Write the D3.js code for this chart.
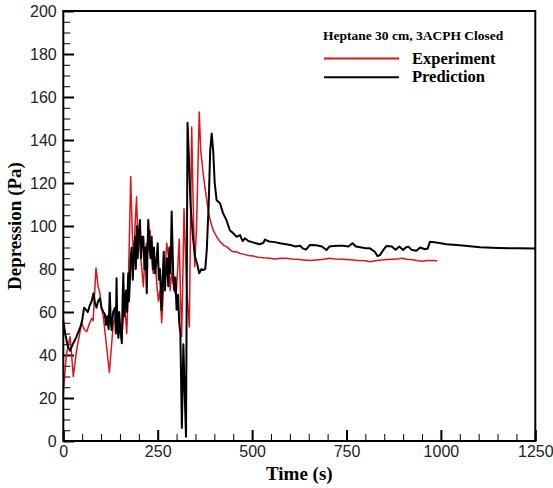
<!DOCTYPE html>
<html>
<head>
<meta charset="utf-8">
<script src="https://cdn.jsdelivr.net/npm/d3@7"></script>
<style>
  body { margin: 0; background: #fff; }
  .tick text { font-family: "Liberation Sans", Arial, sans-serif; font-size: 16px; fill: #222; }
  .ttl { font-family: "Liberation Serif", "Times New Roman", serif; font-weight: bold; fill: #000; }
</style>
</head>
<body>
<div id="chart"></div>
<script>
// Prediction (black) - time (s), depression (Pa)
const predTime = [0, 5, 12, 18, 25, 35, 45, 50, 55, 60, 65, 70, 75, 80, 84, 88, 92, 97, 101, 106, 110, 113, 116, 120, 123, 126, 128, 132, 137, 139, 141, 143, 146, 148, 151, 155, 157, 159, 161, 163, 166, 169, 172, 174, 176, 178, 181, 184, 187, 190, 192, 195, 197, 200, 203, 206, 209, 212, 215, 218, 221, 223, 225, 228, 231, 234, 237, 240, 243, 247, 250, 253, 256, 260, 263, 266, 269, 272, 275, 278, 281, 284, 287, 291, 294, 297, 300, 304, 307, 310, 314, 318, 321, 325, 329, 333, 337, 341, 344, 349, 355, 360, 366, 371, 376, 380, 385, 389, 393, 397, 401, 406, 415, 423, 432, 441, 450, 459, 468, 475, 481, 490, 500, 510, 520, 530, 534, 545, 560, 574, 590, 605, 615, 627, 635, 643, 653, 670, 685, 697, 705, 715, 730, 741, 755, 766, 775, 790, 803, 812, 825, 832, 839, 848, 856, 870, 880, 890, 900, 907, 914, 922, 935, 945, 958, 965, 971, 988, 1015, 1050, 1104, 1150, 1200, 1250];
const predValue = [56, 50, 44, 42, 45, 48.5, 53, 56, 62, 61, 60, 63, 65, 68.7, 64, 62, 65, 66.4, 62, 60, 59, 54, 58, 52, 69, 55, 51.6, 60, 62, 50, 75.7, 55, 48, 60, 52, 45.5, 65, 78, 58, 62, 70, 60, 78, 65, 73, 85, 90, 75, 87, 95, 80, 100, 85, 97, 102.8, 85, 95, 95, 80, 90, 68.7, 88, 102.8, 92, 85, 95, 80, 90, 78, 84, 92, 75, 80, 61, 75, 88, 70, 80, 85, 72, 90, 78, 106.7, 78, 70, 76, 61, 68, 55, 50, 6, 45, 25, 2, 148, 130, 110, 100, 93.5, 85.7, 82, 78, 80, 79.5, 80, 89, 110, 135, 143, 135, 120, 112, 110.6, 106, 102.8, 98, 96.6, 95, 95.8, 93, 94.3, 93, 92.5, 92, 91.5, 92.2, 93.7, 92.8, 92.5, 92, 91.5, 91, 90.5, 90.8, 89.5, 89, 91.2, 91, 90.5, 88.8, 90.5, 90.7, 90.8, 90.8, 90.5, 92, 90.5, 90, 89.6, 89.6, 88, 86, 86.5, 89, 90.7, 90.5, 89, 90.5, 88.8, 90, 90.4, 89, 88.5, 90, 89.2, 89.5, 92.7, 92.3, 91.5, 91, 90.1, 89.8, 89.6, 89.5];

// Experiment (red)
const expTime = [0, 8, 18, 22, 26.5, 35, 48.6, 55, 62, 70, 75, 79, 86.6, 92, 97, 101, 106, 114, 122, 128, 132.5, 140, 145.7, 150, 154.6, 158, 163, 168, 172, 178.5, 183, 187, 190, 194, 198, 202, 205, 208, 212, 216, 220, 225, 229.6, 234, 238, 243, 248, 252, 256, 260.5, 265, 269, 274, 279, 283, 287, 292, 298.5, 303, 307, 310, 313.5, 317, 319.7, 323, 327, 333.7, 340, 344, 348, 353, 360, 364, 370, 375, 380, 385, 389, 395, 400, 406, 415, 425, 432.7, 441, 450, 459, 468, 480, 490, 503, 515, 530, 547, 560, 575, 591, 605, 620, 635, 653, 670, 690, 705, 720, 740, 760, 780, 800, 812, 830, 850, 870, 885, 896, 910, 925, 940, 950, 965, 980, 990];
const expValue = [22, 40, 48.5, 40, 30, 42, 55, 52, 50.8, 55, 57, 56, 80.5, 72, 68.8, 62, 57.8, 45, 32, 45, 54.8, 58, 48.5, 55, 47, 55, 62.5, 50, 70, 123, 95, 85, 100, 113.6, 90, 95, 85, 80, 71.8, 85, 92, 88, 98, 88, 78, 85, 72, 65, 70, 55, 70, 80, 92, 85, 70, 78, 72, 67, 80, 94, 70, 48.5, 80, 108, 90, 70, 53, 146, 110, 81, 100, 153, 135, 125, 118, 112, 106, 102.8, 99, 97, 95, 92.7, 91, 90.4, 89, 88, 88, 87.2, 86.8, 86.3, 86, 85.5, 85.2, 85, 84.6, 85, 85, 84.7, 84.5, 84.2, 83.9, 84.2, 84.5, 85, 84.6, 84.5, 84.3, 84, 83.8, 83.4, 84, 84.3, 84.5, 84.6, 85, 84.5, 84.3, 83.8, 83.6, 84, 84, 83.7];

const xTicks = [0, 250, 500, 750, 1000, 1250];
const yTicks = [0, 20, 40, 60, 80, 100, 120, 140, 160, 180, 200];

const W = 553, H = 488;
const margin = { left: 63.3, top: 11, right: W - 535.3, bottom: H - 441 };
const width = W - margin.left - margin.right;
const height = H - margin.top - margin.bottom;

const svg = d3.select("#chart")
    .append("svg")
    .attr("width", W)
    .attr("height", H);

const g = svg.append("g")
    .attr("transform", `translate(${margin.left}, ${margin.top})`);

const x = d3.scaleLinear().domain([0, 1250]).range([0, width]);
const y = d3.scaleLinear().domain([0, 200]).range([height, 0]);

// minor ticks (inside)
g.append("g")
    .attr("transform", `translate(0, ${height})`)
    .call(d3.axisBottom(x).tickValues(d3.range(0, 1251, 50)).tickSize(-7).tickFormat(""))
    .call(a => a.select(".domain").remove())
    .selectAll("line").attr("stroke", "#000").attr("stroke-width", 1);
g.append("g")
    .call(d3.axisLeft(y).tickValues(d3.range(0, 201, 5)).tickSize(-7).tickFormat(""))
    .call(a => a.select(".domain").remove())
    .selectAll("line").attr("stroke", "#000").attr("stroke-width", 1);

// major ticks
g.append("g")
    .attr("transform", `translate(0, ${height})`)
    .call(d3.axisBottom(x).tickValues(xTicks).tickFormat(d3.format("d")).tickSize(-11).tickPadding(4.6))
    .call(a => a.select(".domain").remove())
    .selectAll("line").attr("stroke", "#000").attr("stroke-width", 2);
g.append("g")
    .call(d3.axisLeft(y).tickValues(yTicks).tickFormat(d3.format("d")).tickSize(-10.7).tickPadding(6.6))
    .call(a => a.select(".domain").remove())
    .selectAll("line").attr("stroke", "#000").attr("stroke-width", 2);

svg.selectAll(".tick text").attr("font-family", null).attr("font-size", null).attr("fill", null);

// lines
const line = d3.line().x(d => x(d[0])).y(d => y(d[1]));
g.append("path")
    .datum(expTime.map((t, i) => [t, expValue[i]]))
    .attr("d", line)
    .attr("fill", "none")
    .attr("stroke", "#e0121c")
    .attr("stroke-width", 1.5)
    .attr("stroke-linejoin", "round");
g.append("path")
    .datum(predTime.map((t, i) => [t, predValue[i]]))
    .attr("d", line)
    .attr("fill", "none")
    .attr("stroke", "#000")
    .attr("stroke-width", 2)
    .attr("stroke-linejoin", "round");

// frame
g.append("rect")
    .attr("width", width)
    .attr("height", height)
    .attr("fill", "none")
    .attr("stroke", "#000")
    .attr("stroke-width", 2);

// axis titles
svg.append("text")
    .attr("class", "ttl")
    .attr("x", margin.left + width / 2)
    .attr("y", 480)
    .attr("text-anchor", "middle")
    .style("font-size", "19px")
    .text("Time (s)");
svg.append("text")
    .attr("class", "ttl")
    .attr("transform", `translate(21, ${margin.top + height / 2}) rotate(-90)`)
    .attr("text-anchor", "middle")
    .style("font-size", "19px")
    .text("Depression (Pa)");

// legend
const leg = svg.append("g");
leg.append("text")
    .attr("class", "ttl")
    .attr("x", 323)
    .attr("y", 40)
    .style("font-size", "13.5px")
    .text("Heptane 30 cm, 3ACPH Closed");
const items = [["Experiment", "#e0121c", 58.5, 63.5], ["Prediction", "#000", 77.3, 82]];
items.forEach(([name, col, ly, ty]) => {
    leg.append("line")
        .attr("x1", 324).attr("x2", 399)
        .attr("y1", ly).attr("y2", ly)
        .attr("stroke", col)
        .attr("stroke-width", 2);
    leg.append("text")
        .attr("class", "ttl")
        .attr("x", 412)
        .attr("y", ty)
        .style("font-size", "16.5px")
        .text(name);
});
</script>
</body>
</html>
